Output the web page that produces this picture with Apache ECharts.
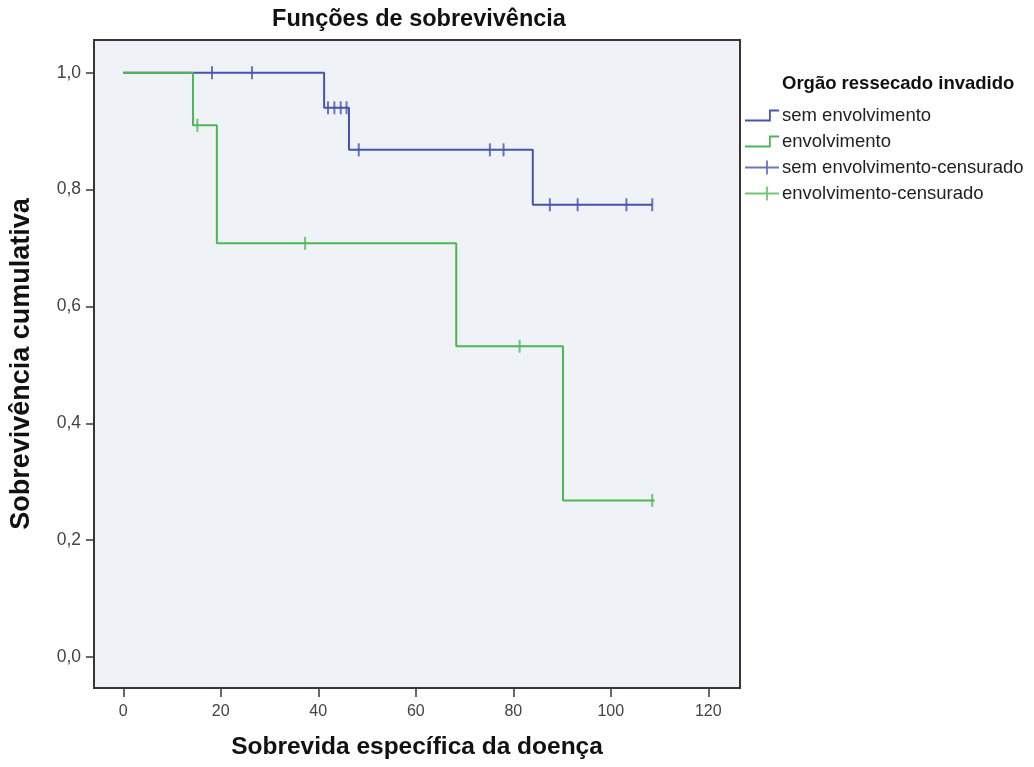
<!DOCTYPE html>
<html>
<head>
<meta charset="utf-8">
<script src="https://cdn.jsdelivr.net/npm/echarts@6/dist/echarts.min.js"></script>
<style>html,body{margin:0;padding:0;background:#fff;}#c{width:1034px;height:767px;}</style>
</head>
<body>
<div id="c"></div>
<script>
// Kaplan-Meier step points [time, cumulative survival]
const semEnvolvimento = [[0,1.0],[41.2,0.94],[46.3,0.868],[84.0,0.774],[108.5,0.774]];
const envolvimento = [[0,1.0],[14.3,0.91],[19.2,0.708],[68.3,0.532],[90.2,0.268],[109.0,0.268]];
// censored observations
const semEnvolvimentoCens = [[18.2,1.0],[26.4,1.0],[42.0,0.94],[43.3,0.94],[44.6,0.94],[45.8,0.94],[48.3,0.868],[75.2,0.868],[78.0,0.868],[87.5,0.774],[93.2,0.774],[103.2,0.774],[108.5,0.774]];
const envolvimentoCens = [[15.2,0.91],[37.3,0.708],[81.3,0.532],[108.5,0.268]];
const xTicks = [0,20,40,60,80,100,120];
const yTicks = [0,0.2,0.4,0.6,0.8,1.0];
const seriesNames = ['sem envolvimento','envolvimento','sem envolvimento-censurado','envolvimento-censurado'];

const BLUE = '#4654ad';
const GREEN = '#4cb852';
const FRAME = '#3c3434';
const FONT = '"Liberation Sans", Arial, sans-serif';

const stepIcon = 'path://M0,12 L24,12 L24,2 L34,2 L34,3.8 L25.8,3.8 L25.8,13.8 L0,13.8 Z';
const crossIcon = 'path://M0,6.1 L34,6.1 L34,7.9 L0,7.9 Z M21.1,0 L22.9,0 L22.9,14 L21.1,14 Z';

const chart = echarts.init(document.getElementById('c'), null, {renderer:'canvas'});
chart.setOption({
  animation: false,
  backgroundColor: '#ffffff',
  textStyle: {fontFamily: FONT},
  title: [
    {text: 'Funções de sobrevivência', left: 414, top: 3, textAlign: 'center',
     textStyle: {fontFamily: FONT, fontSize: 23.5, fontWeight: 'bold', color: '#111'}},
    {text: 'Orgão ressecado invadido', left: 777, top: 69,
     textStyle: {fontFamily: FONT, fontSize: 18.5, fontWeight: 'bold', color: '#111'}}
  ],
  legend: {
    orient: 'vertical', left: 740, top: 100,
    itemWidth: 34, itemHeight: 14, itemGap: 5,
    textStyle: {fontFamily: FONT, fontSize: 18.5, lineHeight: 21, color: '#222', padding: [0,0,0,-2]},
    data: [
      {name: seriesNames[0], icon: stepIcon},
      {name: seriesNames[1], icon: stepIcon},
      {name: seriesNames[2], icon: crossIcon},
      {name: seriesNames[3], icon: crossIcon}
    ]
  },
  grid: {left: 92, top: 40, right: 294, bottom: 79, show: true,
         backgroundColor: '#eff3f7', borderColor: FRAME, borderWidth: 2},
  xAxis: {
    type: 'value', min: -6, max: 126.5,
    name: 'Sobrevida específica da doença', nameLocation: 'middle', nameGap: 47,
    nameTextStyle: {fontFamily: FONT, fontSize: 24.5, fontWeight: 'bold', color: '#111'},
    axisLine: {show: false, onZero: false},
    axisTick: {show: true, customValues: xTicks, length: 9, lineStyle: {color: FRAME, width: 1.5}},
    axisLabel: {customValues: xTicks, margin: 16, fontSize: 16, color: '#444', fontFamily: FONT},
    splitLine: {show: false}
  },
  yAxis: {
    type: 'value', min: -0.053, max: 1.056,
    name: 'Sobrevivência cumulativa', nameLocation: 'middle', nameGap: 59,
    nameTextStyle: {fontFamily: FONT, fontSize: 27, fontWeight: 'bold', color: '#111'},
    axisLine: {show: false, onZero: false},
    axisTick: {show: true, customValues: yTicks, length: 8, lineStyle: {color: FRAME, width: 1.5}},
    axisLabel: {customValues: yTicks, margin: 13, fontSize: 17.5, color: '#444', fontFamily: FONT,
      formatter: v => v.toFixed(1).replace('.', ',')},
    splitLine: {show: false}
  },
  series: [
    {name: seriesNames[0], type: 'line', step: 'end', data: semEnvolvimento, showSymbol: false,
     color: BLUE, lineStyle: {color: BLUE, width: 2}, z: 2},
    {name: seriesNames[1], type: 'line', step: 'end', data: envolvimento, showSymbol: false,
     color: GREEN, lineStyle: {color: GREEN, width: 2}, z: 3},
    {name: seriesNames[2], type: 'scatter', data: semEnvolvimentoCens, symbol: 'rect', symbolSize: [2, 13],
     color: BLUE, itemStyle: {color: BLUE}, z: 4},
    {name: seriesNames[3], type: 'scatter', data: envolvimentoCens, symbol: 'rect', symbolSize: [2, 13],
     color: GREEN, itemStyle: {color: GREEN}, z: 4}
  ]
});
</script>
</body>
</html>
